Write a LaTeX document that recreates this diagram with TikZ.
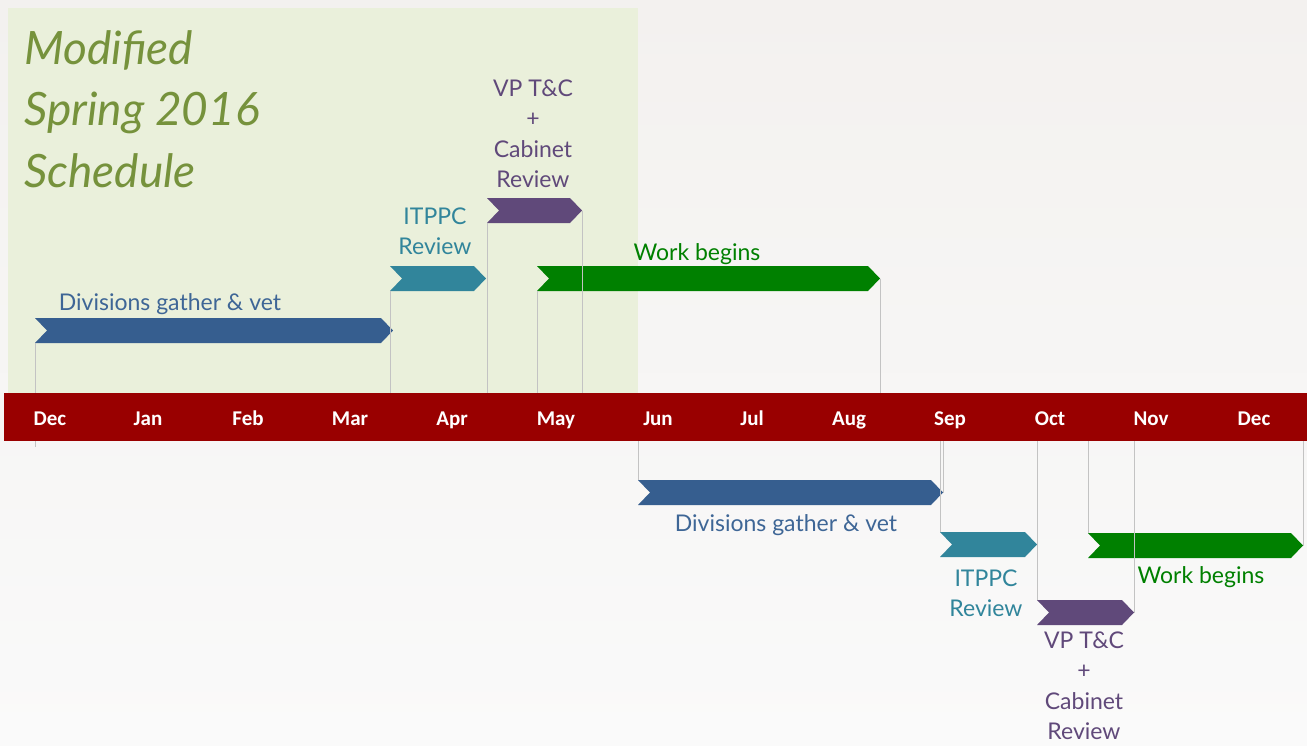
\documentclass[tikz,border=0pt]{standalone}
\usepackage{fontspec}
\setmainfont{Lato}
\newfontfamily\monthfont{Carlito}
\definecolor{barred}{RGB}{153,0,0}
\definecolor{panel}{RGB}{234,240,219}
\definecolor{titlegreen}{RGB}{118,146,60}
\definecolor{cblue}{RGB}{54,94,143}
\definecolor{tblue}{RGB}{62,102,150}
\definecolor{cteal}{RGB}{49,133,155}
\definecolor{cpurple}{RGB}{96,73,122}
\definecolor{cgreen}{RGB}{0,128,0}
\definecolor{tickgray}{RGB}{195,195,195}
\newcommand\chevron[5]{% name, x0, x1, ytop, colour
  \fill[#5] (#2,#4) -- (#3-12,#4) -- (#3,#4+12.5) -- (#3-12,#4+25) -- (#2,#4+25) -- (#2+12,#4+12.5) -- cycle;
  \coordinate (#1-tl) at (#2,#4);
  \coordinate (#1-bl) at (#2,#4+25);
  \coordinate (#1-tip) at (#3,#4+12.5);
}
\tikzset{
  month/.style={text=white, font=\monthfont\bfseries\fontsize{21}{24}\selectfont, inner sep=0},
  lbl/.style={font=\fontsize{23}{30.5}\selectfont, align=center, inner sep=0},
  tickline/.style={draw=tickgray, line width=0.9pt},
}
\begin{document}
\begin{tikzpicture}[x=1pt,y=-1pt]
\useasboundingbox (0,0) rectangle (1307,745);
\shade[top color={rgb,255:red,243;green,241;blue,239}, bottom color={rgb,255:red,250;green,250;blue,250}] (0,0) rectangle (1307,745);
\fill[panel] (8,8) rectangle (638,393);
\node[anchor=south west, inner sep=0, align=left, text=titlegreen, font=\itshape\fontsize{46}{61.5}\selectfont] (title) at (24,188) {Modified\\Spring 2016\\Schedule};

% upper chevrons
\chevron{ud}{35}{393}{318}{cblue}
\chevron{ui}{390}{486}{266}{cteal}
\chevron{uv}{487}{582}{198}{cpurple}
\chevron{uw}{537}{880}{266}{cgreen}
% lower chevrons
\chevron{ld}{638}{943}{480}{cblue}
\chevron{li}{940}{1037}{532}{cteal}
\chevron{lv}{1037}{1134}{600}{cpurple}
\chevron{lw}{1088}{1303}{533}{cgreen}

% bar
\node[fill=barred, minimum width=1303, minimum height=48, anchor=north west, inner sep=0] (bar) at (4,393) {};
\foreach \m/\x [count=\i] in {Dec/50,Jan/148,Feb/248,Mar/350,Apr/452,May/556,Jun/658,Jul/752,Aug/849,Sep/950,Oct/1050,Nov/1151,Dec/1254}
  \node[month, anchor=base] (m\i) at (\x,425) {\m};

% upper tick lines
\draw[tickline] (ud-bl) -- (ud-bl |- bar.north);
\draw[tickline] (ud-bl |- bar.south) -- ++(0,6);
\draw[tickline] (ui-bl) -- (ui-bl |- bar.north);
\draw[tickline] (uv-bl) -- (uv-bl |- bar.north);
\draw[tickline] (uv-tip) -- (uv-tip |- bar.north);
\draw[tickline] (uw-bl) -- (uw-bl |- bar.north);
\draw[tickline] (uw-tip) -- (uw-tip |- bar.north);
% lower tick lines
\draw[tickline] (ld-tl) -- (ld-tl |- bar.south);
\draw[tickline] (ld-tip) -- (ld-tip |- bar.south);
\draw[tickline] (li-tl) -- (li-tl |- bar.south);
\draw[tickline] (lv-tl) -- (lv-tl |- bar.south);
\draw[tickline] (lw-tl) -- (lw-tl |- bar.south);
\draw[tickline] (lv-tip) -- (lv-tip |- bar.south);
\draw[tickline] (lw-tip) -- (lw-tip |- bar.south);

% upper labels
\node[lbl, text=tblue, anchor=base] (tud) at (170,310) {Divisions gather \& vet};
\node[lbl, text=cteal, anchor=south] (tui) at (435,255) {ITPPC\\Review};
\node[lbl, text=cpurple, anchor=south] (tuv) at (533,188) {VP T\&C\\+\\Cabinet\\Review};
\node[lbl, text=cgreen, anchor=base] (tuw) at (697,260) {Work begins};
% lower labels
\node[lbl, text=tblue, anchor=base] (tld) at (786,531) {Divisions gather \& vet};
\node[lbl, text=cteal, anchor=south] (tli) at (986,617) {ITPPC\\Review};
\node[lbl, text=cpurple, anchor=south] (tlv) at (1084,740) {VP T\&C\\+\\Cabinet\\Review};
\node[lbl, text=cgreen, anchor=base] (tlw) at (1201,583) {Work begins};
\end{tikzpicture}
\end{document}
